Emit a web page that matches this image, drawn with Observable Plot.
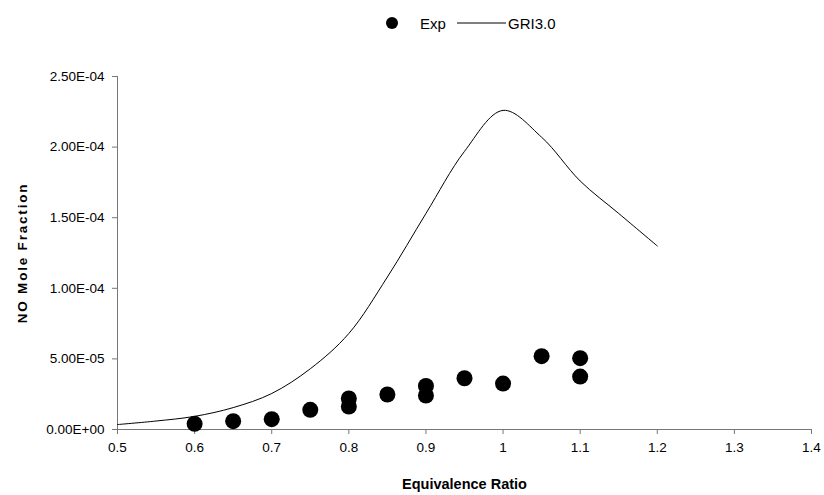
<!DOCTYPE html>
<html><head><meta charset="utf-8">
<script src="https://cdn.jsdelivr.net/npm/d3@7"></script>
<script src="https://cdn.jsdelivr.net/npm/@observablehq/plot@0.6"></script>
<style>
body{margin:0;background:#fff;font-family:"Liberation Sans",Arial,sans-serif;}
#legend{position:relative;height:46px;width:824px;font-size:15px;color:#000;}
#legend .it{position:absolute;top:23px;transform:translateY(-50%);line-height:1;}
#chart svg{display:block;}
#chart g[aria-label$="tick"]{stroke:#777;}
</style></head><body>
<div id="legend"></div>
<div id="chart"></div>
<script>
// Experimental points (Exp)
const expPhi = [0.6, 0.65, 0.7, 0.75, 0.8, 0.8, 0.85, 0.9, 0.9, 0.95, 1.0, 1.05, 1.1, 1.1];
const expNO  = [4.0e-6, 5.9e-6, 7.3e-6, 1.39e-5, 2.2e-5, 1.63e-5, 2.48e-5, 3.08e-5, 2.41e-5, 3.63e-5, 3.25e-5, 5.19e-5, 5.05e-5, 3.75e-5];
// GRI3.0 model curve
const griPhi = [0.5, 0.55, 0.6, 0.65, 0.7, 0.75, 0.8, 0.85, 0.9, 0.95, 1.0, 1.05, 1.1, 1.15, 1.2];
const griNO  = [3.5e-6, 6.0e-6, 9.3e-6, 1.55e-5, 2.55e-5, 4.3e-5, 6.8e-5, 1.08e-4, 1.53e-4, 1.97e-4, 2.26e-4, 2.07e-4, 1.76e-4, 1.53e-4, 1.30e-4];
// tick labels
const xTicks = [0.5, 0.6, 0.7, 0.8, 0.9, 1.0, 1.1, 1.2, 1.3, 1.4];
const yTicks = [0, 5e-5, 1e-4, 1.5e-4, 2e-4, 2.5e-4];
const seriesNames = ["Exp", "GRI3.0"];
const xLabel = "Equivalence Ratio";
const yLabel = "NO Mole Fraction";

const expData = expPhi.map((x, i) => ({x, y: expNO[i]}));
const griData = griPhi.map((x, i) => ({x, y: griNO[i]}));

function sci(v) {
  const [m, e] = v.toExponential(2).split("e");
  const sign = e[0] === "-" ? "-" : "+";
  const d = e.replace(/^[+-]/, "").padStart(2, "0");
  return `${m}E${sign}${d}`;
}
const xfmt = d => String(Math.round(d * 10) / 10);

// legend (HTML)
const leg = document.getElementById("legend");
leg.innerHTML = `
  <svg class="it" style="left:385px" width="14" height="14"><circle cx="7" cy="7" r="6" fill="#000"/></svg>
  <span class="it" style="left:420px">${seriesNames[0]}</span>
  <svg class="it" style="left:457px" width="49" height="3"><line x1="0" y1="1.5" x2="49" y2="1.5" stroke="#000" stroke-width="1"/></svg>
  <span class="it" style="left:508px">${seriesNames[1]}</span>`;

const plot = Plot.plot({
  width: 824,
  height: 449,
  marginLeft: 117,
  marginRight: 13,
  marginTop: 30,
  marginBottom: 66,
  style: {fontFamily: "'Liberation Sans', Arial, sans-serif", fontSize: "13.5px", color: "#000", background: "#fff", overflow: "visible"},
  x: {domain: [0.5, 1.4]},
  y: {domain: [0, 2.5e-4]},
  marks: [
    Plot.axisX({ticks: xTicks, tickFormat: xfmt, tickSize: 5, tickPadding: 8, label: null}),
    Plot.axisY({ticks: yTicks, tickFormat: sci, tickSize: 5, tickPadding: 8, label: null}),
    Plot.ruleY([0], {stroke: "#777"}),
    Plot.ruleX([0.5], {stroke: "#777"}),
    Plot.line(griData, {x: "x", y: "y", curve: "catmull-rom", stroke: "#000", strokeWidth: 1}),
    Plot.dot(expData, {x: "x", y: "y", r: 8, fill: "#000", stroke: null}),
    Plot.text([xLabel], {text: d => d, frameAnchor: "bottom", dy: 59, fontWeight: "bold", fontSize: 14.5}),
    Plot.text([yLabel], {text: d => d, frameAnchor: "left", textAnchor: "middle", dx: -95, rotate: -90, fontWeight: "bold", fontSize: 13.5})
  ]
});
d3.select(plot).selectAll("text").filter(function(){ return this.textContent === yLabel; }).style("letter-spacing", "1.8px");
document.getElementById("chart").appendChild(plot);
</script>
</body></html>
